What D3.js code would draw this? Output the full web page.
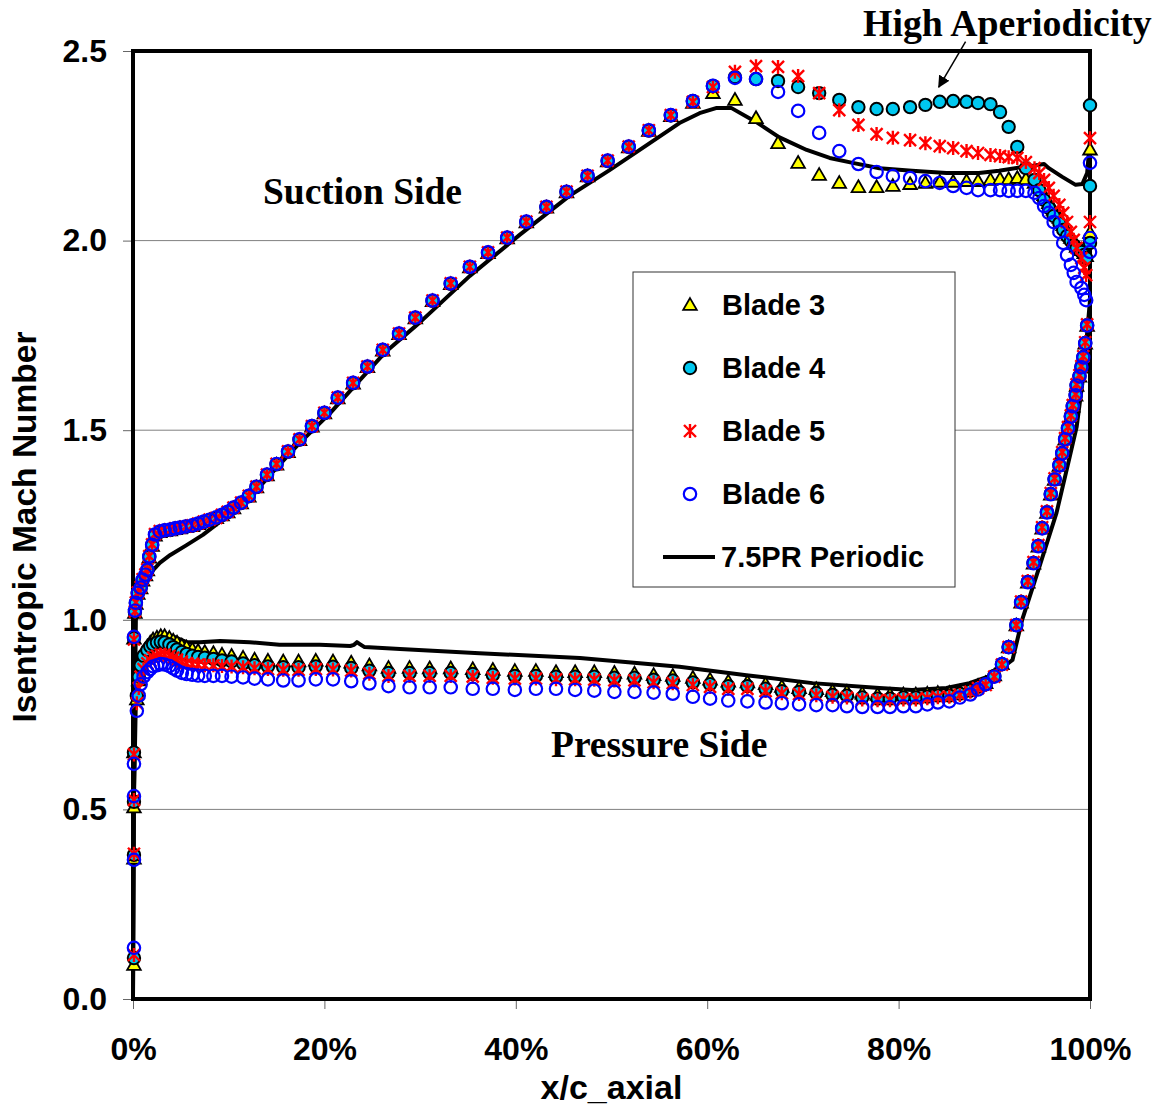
<!DOCTYPE html>
<html>
<head>
<meta charset="utf-8">
<script src="https://cdn.jsdelivr.net/npm/d3@7"></script>
<style>
  body { margin: 0; background: #fff; }
  svg { display: block; }
  .tick text { font-family: "Liberation Sans", Arial, sans-serif; font-weight: bold; font-size: 32px; fill: #000; }
  .tick line { stroke: #666; stroke-width: 1; }
</style>
</head>
<body>
<script>
// Chart size
var svgWidth = 1156;
var svgHeight = 1107;

// Plot area edges
var margin = { top: 51, right: 66, bottom: 108, left: 133 };
var chartWidth = svgWidth - margin.left - margin.right;
var chartHeight = svgHeight - margin.top - margin.bottom;

// Tick values
var xTicks = [0, 20, 40, 60, 80, 100];
var yTicks = [0.0, 0.5, 1.0, 1.5, 2.0, 2.5];

// Leading edge (stagnation) taps, x/c in %
var leX = [0.1, 0.1, 0.1, 0.1];
// Suction side taps, x/c in %
var suctionX = [0.1, 0.2, 0.3, 0.5, 0.8, 1.0, 1.3, 1.5, 1.7, 2.0,
  2.3, 2.8, 3.3, 3.9, 4.4, 4.9, 5.5, 6.2, 6.8, 7.4,
  8.0, 8.7, 9.3, 9.9, 10.5, 11.3, 12.1, 12.9, 14.0, 15.0,
  16.2, 17.4, 18.7, 20.0, 21.4, 23.0, 24.5, 26.1, 27.8, 29.5,
  31.3, 33.2, 35.2, 37.1, 39.1, 41.1, 43.2, 45.3, 47.5, 49.6,
  51.8, 53.9, 56.2, 58.5, 60.6, 62.9, 65.1, 67.4, 69.5, 71.7,
  73.8, 75.8, 77.7, 79.4, 81.2, 82.8, 84.3, 85.7, 87.1, 88.3,
  89.6, 90.6, 91.5, 92.4, 93.3, 94.2, 94.7, 95.2, 95.7, 96.2,
  96.8, 97.2, 97.6, 98.0, 98.3, 98.6, 99.1, 99.4, 99.6];
// Pressure side taps, x/c in %
var pressureX = [0.4, 0.6, 0.8, 1.1, 1.5, 1.8, 2.1, 2.5, 2.9, 3.3,
  3.8, 4.2, 4.6, 5.1, 5.6, 6.2, 6.8, 7.5, 8.4, 9.3,
  10.3, 11.5, 12.7, 14.1, 15.7, 17.3, 19.1, 20.9, 22.8, 24.7,
  26.7, 28.9, 31.0, 33.2, 35.5, 37.6, 39.9, 42.1, 44.2, 46.2,
  48.2, 50.3, 52.4, 54.4, 56.4, 58.5, 60.3, 62.2, 64.2, 66.1,
  67.8, 69.6, 71.4, 73.1, 74.6, 76.2, 77.8, 79.1, 80.5, 81.8,
  83.0, 84.1, 85.3, 86.4, 87.5, 88.3, 89.1, 90.0, 90.8, 91.5,
  92.3, 92.8, 93.5, 94.1, 94.6, 95.0, 95.5, 95.9, 96.3, 96.8,
  97.1, 97.4, 97.7, 98.0, 98.2, 98.5, 98.6, 98.9, 99.1, 99.3,
  99.5, 99.7];
// Trailing edge taps sit at x/c = 100%
var teXValue = 100;

// Blade 3
var blade3LE = [0.09, 0.37, 0.505, 0.65];
var blade3Suction = [0.95, 1.018, 1.042, 1.068, 1.083, 1.103, 1.117, 1.13, 1.164, 1.195,
  1.222, 1.231, 1.234, 1.236, 1.239, 1.241, 1.244, 1.247, 1.252, 1.257,
  1.262, 1.268, 1.275, 1.283, 1.294, 1.307, 1.325, 1.349, 1.381, 1.409,
  1.442, 1.474, 1.509, 1.544, 1.584, 1.623, 1.666, 1.71, 1.753, 1.795,
  1.84, 1.885, 1.929, 1.967, 2.006, 2.048, 2.087, 2.127, 2.169, 2.209,
  2.246, 2.289, 2.328,
  2.363, 2.389, 2.371, 2.323, 2.257, 2.205, 2.173, 2.152, 2.141, 2.141,
  2.144, 2.149, 2.152, 2.155, 2.155, 2.157, 2.157, 2.16, 2.162, 2.162,
  2.165, 2.162, 2.152, 2.139, 2.12, 2.099, 2.081, 2.06, 2.041, 2.023,
  2.007, 1.994, 1.983, 1.975, 1.967, 1.959];
var blade3Pressure = [0.79, 0.84, 0.88, 0.91, 0.93, 0.94, 0.948, 0.953, 0.957, 0.957,
  0.952, 0.945, 0.94, 0.932, 0.927, 0.922, 0.918, 0.915, 0.912, 0.908,
  0.905, 0.90, 0.895, 0.892, 0.89, 0.89, 0.892, 0.89, 0.887, 0.88,
  0.873, 0.873, 0.872, 0.872, 0.87, 0.868, 0.865, 0.865, 0.862, 0.862,
  0.862, 0.86, 0.858, 0.854, 0.852, 0.847, 0.842, 0.837, 0.835, 0.83,
  0.823, 0.82, 0.817, 0.812, 0.81, 0.805, 0.802, 0.802, 0.803, 0.803,
  0.805, 0.807, 0.807, 0.81, 0.817, 0.826, 0.833, 0.853, 0.883, 0.927,
  0.985, 1.045, 1.098, 1.148, 1.193, 1.24, 1.282, 1.33, 1.369, 1.406,
  1.438, 1.475, 1.504, 1.535, 1.562, 1.591, 1.617, 1.641, 1.665, 1.691,
  1.728, 1.775];
var blade3TE = [2.24, 2.02];

// Blade 4
var blade4LE = [0.108, 0.38, 0.52, 0.65];
var blade4Suction = [0.952, 1.02, 1.044, 1.07, 1.084, 1.105, 1.118, 1.131, 1.166, 1.197,
  1.224, 1.232, 1.235, 1.237, 1.24, 1.242, 1.245, 1.248, 1.253, 1.258,
  1.263, 1.268, 1.276, 1.284, 1.295, 1.308, 1.326, 1.35, 1.382, 1.41,
  1.443, 1.475, 1.51, 1.545, 1.585, 1.624, 1.667, 1.711, 1.754, 1.796,
  1.841, 1.886, 1.93, 1.968, 2.007, 2.049, 2.088, 2.128, 2.17, 2.21,
  2.247, 2.29, 2.33,
  2.368, 2.408, 2.431, 2.426, 2.421, 2.405, 2.389, 2.371, 2.352, 2.347,
  2.347, 2.352, 2.358, 2.366, 2.368, 2.366, 2.363, 2.36, 2.339, 2.30,
  2.247, 2.191, 2.16, 2.133, 2.107, 2.086, 2.065, 2.046, 2.028, 2.012,
  1.999, 1.988, 1.981, 1.97, 1.962, 1.954];
var blade4Pressure = [0.80, 0.85, 0.88, 0.905, 0.92, 0.93, 0.935, 0.94, 0.942, 0.94,
  0.935, 0.928, 0.922, 0.915, 0.91, 0.905, 0.902, 0.90, 0.897, 0.893,
  0.89, 0.885, 0.88, 0.877, 0.875, 0.875, 0.877, 0.876, 0.873, 0.866,
  0.86, 0.86, 0.86, 0.86, 0.857, 0.855, 0.852, 0.852, 0.85, 0.85,
  0.85, 0.847, 0.847, 0.842, 0.84, 0.835, 0.83, 0.825, 0.825, 0.818,
  0.812, 0.81, 0.807, 0.802, 0.80, 0.795, 0.792, 0.792, 0.795, 0.795,
  0.797, 0.80, 0.80, 0.805, 0.813, 0.823, 0.83, 0.852, 0.883, 0.928,
  0.986, 1.047, 1.10, 1.15, 1.195, 1.242, 1.284, 1.332, 1.371, 1.408,
  1.44, 1.477, 1.506, 1.537, 1.564, 1.593, 1.619, 1.643, 1.667, 1.693,
  1.73, 1.777];
var blade4TE = [2.357, 2.144, 1.994];

// Blade 5
var blade5LE = [0.116, 0.383, 0.525, 0.645];
var blade5Suction = [0.948, 1.022, 1.046, 1.072, 1.086, 1.107, 1.12, 1.133, 1.168, 1.199,
  1.226, 1.234, 1.236, 1.238, 1.241, 1.243, 1.246, 1.249, 1.254, 1.259,
  1.264, 1.269, 1.277, 1.285, 1.296, 1.309, 1.327, 1.351, 1.383, 1.411,
  1.444, 1.476, 1.511, 1.546, 1.586, 1.625, 1.668, 1.712, 1.755, 1.797,
  1.842, 1.887, 1.931, 1.969, 2.008, 2.05, 2.089, 2.129, 2.171, 2.211,
  2.248, 2.291, 2.331,
  2.366, 2.405, 2.445, 2.46, 2.458, 2.434, 2.389, 2.344, 2.305, 2.281,
  2.271, 2.265, 2.257, 2.249, 2.244, 2.236, 2.231, 2.226, 2.223, 2.22,
  2.218, 2.207, 2.191, 2.178, 2.16, 2.139, 2.118, 2.094, 2.073, 2.049,
  2.023, 2.002, 1.981, 1.954, 1.928, 1.909];
var blade5Pressure = [0.78, 0.82, 0.85, 0.87, 0.885, 0.893, 0.90, 0.905, 0.908, 0.908,
  0.905, 0.90, 0.895, 0.89, 0.886, 0.883, 0.882, 0.88, 0.88, 0.878,
  0.877, 0.875, 0.872, 0.87, 0.868, 0.868, 0.87, 0.869, 0.866, 0.858,
  0.852, 0.852, 0.852, 0.852, 0.85, 0.847, 0.845, 0.845, 0.843, 0.843,
  0.842, 0.84, 0.84, 0.835, 0.833, 0.828, 0.823, 0.818, 0.818, 0.812,
  0.806, 0.804, 0.801, 0.797, 0.795, 0.79, 0.788, 0.788, 0.79, 0.79,
  0.793, 0.796, 0.797, 0.802, 0.81, 0.82, 0.828, 0.85, 0.882, 0.928,
  0.986, 1.048, 1.102, 1.152, 1.197, 1.244, 1.286, 1.334, 1.373, 1.41,
  1.442, 1.479, 1.508, 1.539, 1.566, 1.595, 1.621, 1.645, 1.669, 1.695,
  1.732, 1.779];
var blade5TE = [2.27, 2.049];

// Blade 6
var blade6LE = [0.135, 0.367, 0.535, 0.62];
var blade6Suction = [0.955, 1.024, 1.045, 1.071, 1.085, 1.106, 1.119, 1.132, 1.167, 1.198,
  1.225, 1.233, 1.236, 1.238, 1.241, 1.243, 1.246, 1.249, 1.254, 1.259,
  1.264, 1.27, 1.277, 1.285, 1.296, 1.309, 1.327, 1.351, 1.383, 1.411,
  1.444, 1.476, 1.511, 1.546, 1.586, 1.625, 1.668, 1.712, 1.755, 1.797,
  1.842, 1.887, 1.931, 1.969, 2.008, 2.05, 2.089, 2.129, 2.171, 2.211,
  2.248, 2.291, 2.331,
  2.368, 2.408, 2.429, 2.426, 2.392, 2.342, 2.284, 2.236, 2.202, 2.181,
  2.17, 2.165, 2.157, 2.152, 2.144, 2.139, 2.133, 2.133, 2.133, 2.131,
  2.131, 2.131, 2.126, 2.112, 2.091, 2.073, 2.049, 2.023, 1.994, 1.962,
  1.936, 1.915, 1.891, 1.875, 1.857, 1.843];
var blade6Pressure = [0.76, 0.80, 0.83, 0.85, 0.862, 0.87, 0.877, 0.88, 0.883, 0.882,
  0.878, 0.872, 0.866, 0.86, 0.857, 0.855, 0.853, 0.852, 0.852, 0.852,
  0.85, 0.848, 0.845, 0.843, 0.84, 0.84, 0.843, 0.843, 0.838, 0.832,
  0.825, 0.822, 0.822, 0.822, 0.818, 0.818, 0.815, 0.818, 0.818, 0.815,
  0.813, 0.81, 0.81, 0.808, 0.805, 0.797, 0.792, 0.787, 0.785, 0.782,
  0.78, 0.777, 0.775, 0.775, 0.772, 0.77, 0.77, 0.77, 0.772, 0.772,
  0.777, 0.782, 0.785, 0.795, 0.803, 0.816, 0.83, 0.85, 0.883, 0.928,
  0.986, 1.046, 1.099, 1.149, 1.194, 1.241, 1.283, 1.331, 1.37, 1.407,
  1.439, 1.476, 1.505, 1.536, 1.563, 1.592, 1.618, 1.642, 1.666, 1.692,
  1.729, 1.776];
var blade6TE = [2.205, 2.007, 1.97];

// 7.5PR Periodic prediction, suction and pressure branches
var periodicSuctionX = [0, 0.1, 0.3, 0.7, 1.3, 2.1, 2.8, 3.9, 5.6, 7.3,
  8.8, 10.1, 12.2, 14.8, 17.4, 20.6, 23.7, 26.3, 30.0, 35.2,
  40.4, 45.6, 49.8, 54.0, 57.1, 59.2, 61.0, 62.5, 65.1, 67.5,
  70.4, 72.8, 75.2, 78.0, 81.4, 85.0, 88.4, 90.5, 92.9, 93.9,
  95.2, 95.7, 97.1, 98.5, 99.2, 99.7, 100];
var periodicSuctionM = [0.0, 0.55, 1.0, 1.052, 1.097, 1.131, 1.15, 1.171, 1.197, 1.224,
  1.253, 1.279, 1.321, 1.395, 1.466, 1.545, 1.632, 1.704, 1.785, 1.907,
  2.015, 2.118, 2.186, 2.257, 2.31, 2.336, 2.35, 2.35, 2.313, 2.273,
  2.239, 2.218, 2.205, 2.191, 2.184, 2.178, 2.178, 2.184, 2.194, 2.197,
  2.202, 2.191, 2.168, 2.147, 2.149, 2.178, 2.265];
var periodicPressureX = [0, 0.1, 0.3, 0.7, 1.4, 2.1, 3.1, 4.6, 5.6, 7.0,
  9.1, 12.2, 15.3, 19.5, 22.7, 23.1, 23.4, 23.7, 24.2, 27.9,
  36.2, 46.7, 57.1, 64.1, 71.0, 78.0, 81.4, 85.0, 87.4, 89.8,
  91.9, 92.9, 94.7, 96.5, 97.8, 98.6, 99.2, 99.7, 100, 100];
var periodicPressureM = [0.0, 0.525, 0.79, 0.912, 0.939, 0.955, 0.965, 0.952, 0.941, 0.941,
  0.944, 0.941, 0.934, 0.934, 0.931, 0.934, 0.941, 0.936, 0.928, 0.923,
  0.912, 0.899, 0.876, 0.854, 0.833, 0.82, 0.815, 0.82, 0.833, 0.854,
  0.894, 0.999, 1.139, 1.282, 1.421, 1.508, 1.624, 1.756, 1.843, 2.265];

// Series names
var seriesNames = ["Blade 3", "Blade 4", "Blade 5", "Blade 6"];
var lineName = "7.5PR Periodic";

// Gather each blade's points
function bladePoints(le, suction, pressure, te) {
  var pts = [];
  le.forEach((m, i) => pts.push({ x: leX[i], m: m }));
  suction.forEach((m, i) => pts.push({ x: suctionX[i], m: m }));
  pressure.forEach((m, i) => pts.push({ x: pressureX[i], m: m }));
  te.forEach(m => pts.push({ x: teXValue, m: m }));
  return pts;
}
var blades = [
  { name: seriesNames[0], kind: "tri", points: bladePoints(blade3LE, blade3Suction, blade3Pressure, blade3TE) },
  { name: seriesNames[1], kind: "dot", points: bladePoints(blade4LE, blade4Suction, blade4Pressure, blade4TE) },
  { name: seriesNames[2], kind: "star", points: bladePoints(blade5LE, blade5Suction, blade5Pressure, blade5TE) },
  { name: seriesNames[3], kind: "ring", points: bladePoints(blade6LE, blade6Suction, blade6Pressure, blade6TE) }
];

var svg = d3.select("body")
  .append("svg")
  .attr("width", svgWidth)
  .attr("height", svgHeight);

var chartGroup = svg.append("g")
  .attr("transform", `translate(${margin.left}, ${margin.top})`);

var xScale = d3.scaleLinear().domain([0, 100]).range([0, chartWidth]);
var yScale = d3.scaleLinear().domain([0, 2.5]).range([chartHeight, 0]);

// Gridlines
chartGroup.append("g")
  .selectAll("line")
  .data(yTicks.filter(d => d > 0 && d < 2.5))
  .join("line")
  .attr("x1", 0).attr("x2", chartWidth)
  .attr("y1", d => yScale(d)).attr("y2", d => yScale(d))
  .attr("stroke", "#808080").attr("stroke-width", 1);

// Axes
var leftAxis = d3.axisLeft(yScale).tickValues(yTicks).tickSize(10).tickPadding(16)
  .tickFormat(d3.format(".1f"));
var bottomAxis = d3.axisBottom(xScale).tickValues(xTicks).tickSize(10).tickPadding(28)
  .tickFormat(d => d + "%");

chartGroup.append("g").call(leftAxis).call(g => g.select(".domain").remove());
chartGroup.append("g").attr("transform", `translate(0, ${chartHeight})`)
  .call(bottomAxis).call(g => g.select(".domain").remove());

// Plot frame
chartGroup.append("rect")
  .attr("x", 0).attr("y", 0)
  .attr("width", chartWidth).attr("height", chartHeight)
  .attr("fill", "none").attr("stroke", "#000").attr("stroke-width", 4);

// Legend box
var legend = svg.append("g").attr("transform", "translate(633, 272)");
legend.append("rect")
  .attr("width", 322).attr("height", 315)
  .attr("fill", "#fff").attr("stroke", "#333").attr("stroke-width", 1);

// Periodic line
var drawLine = d3.line()
  .x(d => xScale(d[0]))
  .y(d => yScale(d[1]));
chartGroup.append("path")
  .attr("d", drawLine(periodicSuctionX.map((x, i) => [x, periodicSuctionM[i]])))
  .attr("fill", "none").attr("stroke", "#000").attr("stroke-width", 4)
  .attr("stroke-linejoin", "round");
chartGroup.append("path")
  .attr("d", drawLine(periodicPressureX.map((x, i) => [x, periodicPressureM[i]])))
  .attr("fill", "none").attr("stroke", "#000").attr("stroke-width", 4)
  .attr("stroke-linejoin", "round");

// Marker painters
var triPath = d3.symbol().type(d3.symbolTriangle).size(80)();
function drawMarker(sel, kind) {
  if (kind === "tri") {
    sel.append("path").attr("d", triPath).attr("transform", "translate(0,1)")
      .attr("fill", "#ffff00").attr("stroke", "#000").attr("stroke-width", 1.8);
  } else if (kind === "dot") {
    sel.append("circle").attr("r", 6.2)
      .attr("fill", "#00c8f0").attr("stroke", "#000").attr("stroke-width", 2);
  } else if (kind === "star") {
    sel.append("path").attr("d", "M-6,-6L6,6M-6,6L6,-6M0,-7L0,7")
      .attr("stroke", "#ff0000").attr("stroke-width", 2.4).attr("fill", "none");
  } else {
    sel.append("circle").attr("r", 6.2)
      .attr("fill", "none").attr("stroke", "#0000ff").attr("stroke-width", 2.2);
  }
}

blades.forEach(b => {
  chartGroup.append("g")
    .selectAll("g")
    .data(b.points)
    .join("g")
    .attr("transform", d => `translate(${xScale(d.x)}, ${yScale(d.m)})`)
    .each(function () { drawMarker(d3.select(this), b.kind); });
});

// Legend entries
var legendFont = "'Liberation Sans', Arial, sans-serif";
blades.forEach((b, i) => {
  var row = legend.append("g").attr("transform", `translate(57, ${33 + i * 63})`);
  drawMarker(row, b.kind);
  row.append("text").attr("x", 32).attr("y", 10)
    .attr("font-family", legendFont).attr("font-weight", "bold").attr("font-size", 29)
    .text(b.name);
});
var lineRow = legend.append("g").attr("transform", "translate(0, 285)");
lineRow.append("line").attr("x1", 30).attr("x2", 82)
  .attr("stroke", "#000").attr("stroke-width", 4);
lineRow.append("text").attr("x", 88).attr("y", 10)
  .attr("font-family", legendFont).attr("font-weight", "bold").attr("font-size", 29)
  .text(lineName);

// Axis titles
svg.append("text")
  .attr("transform", "translate(36, 527) rotate(-90)")
  .attr("text-anchor", "middle")
  .attr("font-family", legendFont).attr("font-weight", "bold").attr("font-size", 33.5)
  .text("Isentropic Mach Number");
svg.append("text")
  .attr("x", margin.left + chartWidth / 2).attr("y", 1099)
  .attr("text-anchor", "middle")
  .attr("font-family", legendFont).attr("font-weight", "bold").attr("font-size", 34)
  .text("x/c_axial");

// Annotations
var serif = "'Liberation Serif', 'Times New Roman', serif";
svg.append("text").attr("x", 263).attr("y", 204)
  .attr("font-family", serif).attr("font-weight", "bold").attr("font-size", 37.5)
  .text("Suction Side");
svg.append("text").attr("x", 551).attr("y", 757)
  .attr("font-family", serif).attr("font-weight", "bold").attr("font-size", 37.5)
  .text("Pressure Side");
svg.append("text").attr("x", 863).attr("y", 36)
  .attr("font-family", serif).attr("font-weight", "bold").attr("font-size", 37.8)
  .text("High Aperiodicity");

// Arrow pointing at the aperiodic blade 4 plateau
var arrowFrom = [87.0, 2.525];
var arrowTo = [84.2, 2.405];
svg.append("defs").append("marker")
  .attr("id", "head").attr("viewBox", "0 0 10 10")
  .attr("refX", 9).attr("refY", 5)
  .attr("markerWidth", 8).attr("markerHeight", 8)
  .attr("orient", "auto")
  .append("path").attr("d", "M0,0L10,5L0,10Z").attr("fill", "#000");
chartGroup.append("line")
  .attr("x1", xScale(arrowFrom[0])).attr("y1", yScale(arrowFrom[1]))
  .attr("x2", xScale(arrowTo[0])).attr("y2", yScale(arrowTo[1]))
  .attr("stroke", "#000").attr("stroke-width", 1.5)
  .attr("marker-end", "url(#head)");
</script>
</body>
</html>
